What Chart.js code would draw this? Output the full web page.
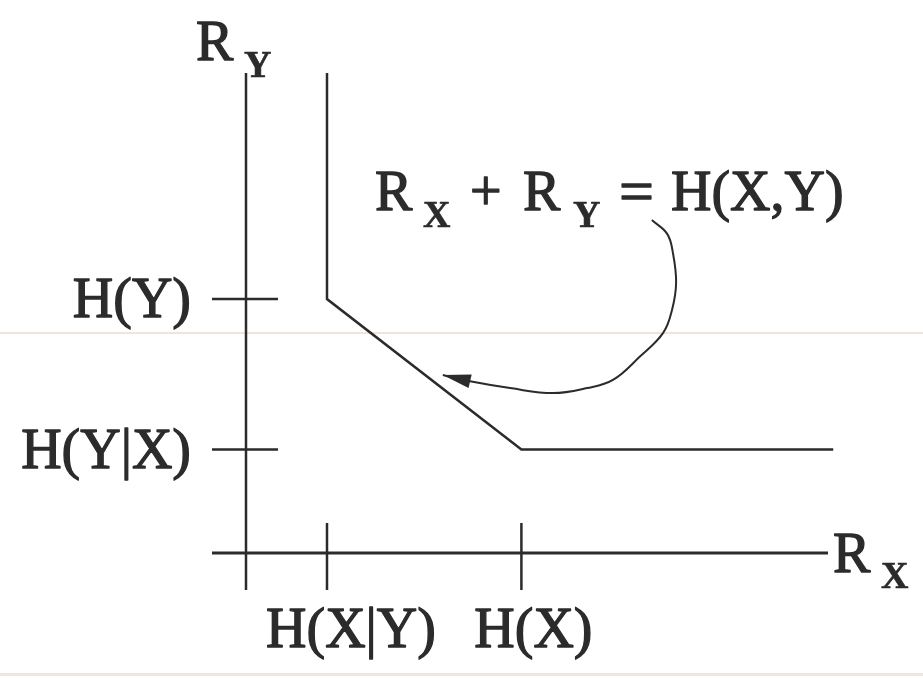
<!DOCTYPE html>
<html>
<head>
<meta charset="utf-8">
<script src="https://cdn.jsdelivr.net/npm/chart.js@4"></script>
<style>
html,body{margin:0;padding:0;background:#fff;}
#wrap{position:relative;width:923px;height:678px;
background:linear-gradient(to bottom, #fff 0, #fff 332px, #f1e4dc 332px, #f1e4dc 334px, #fff 334px, #fff 673px, #efe6df 673px, #efe6df 676px, #fff 676px);}
canvas{display:block;}
</style>
</head>
<body>
<div id="wrap"><canvas id="c" width="923" height="678"></canvas></div>
<script>
// Entropy values (data units)
const xTickValues = [1, 3.4];          // H(X|Y), H(X)
const xTickLabels = ["H(X|Y)", "H(X)"];
const yTickValues = [1.65, 4.05];      // H(Y|X), H(Y)
const yTickLabels = ["H(Y|X)", "H(Y)"];

// Rate region boundary (corner points)
const boundaryX = [1, 1, 3.4, 7.25];
const boundaryY = [7.655, 4.05, 1.65, 1.65];

// Axes extents
const xAxisX = [-0.42, 7.185];
const xAxisY = [0, 0];
const yAxisX = [0, 0];
const yAxisY = [-0.59, 7.655];

// Tick extents
const xTickY = [-0.59, 0.478];
const yTickX = [-0.42, 0.395];

// Arrow curve from label to sum-rate line
const arrowX = [5.01, 5.20, 5.27, 5.31, 5.26, 5.15, 4.86, 4.53, 4.21, 3.79, 3.26, 2.80, 2.43];
const arrowY = [5.31, 5.09, 4.79, 4.31, 3.88, 3.51, 3.13, 2.76, 2.63, 2.55, 2.63, 2.73, 2.84];

const toPts = (xs, ys) => xs.map((x, i) => ({x: x, y: ys[i]}));

const ink = '#2b2b2b';
const serif = '"Liberation Serif", "DejaVu Serif", serif';

const lineDs = (pts, w, extra) => Object.assign({
  data: pts, showLine: true, borderColor: ink, borderWidth: w,
  pointRadius: 0, fill: false, tension: 0
}, extra || {});

const datasets = [
  lineDs(toPts(xAxisX, xAxisY), 3),
  lineDs(toPts(yAxisX, yAxisY), 2.5),
  ...xTickValues.map(v => lineDs(toPts([v, v], xTickY), 2.5)),
  ...yTickValues.map(v => lineDs(toPts(yTickX, [v, v]), 2.5)),
  lineDs(toPts(boundaryX, boundaryY), 2.5),
  lineDs(toPts(arrowX, arrowY), 2, {tension: 0.4})
];
const ARROW_INDEX = datasets.length - 1;

const textPlugin = {
  id: 'texts',
  afterDatasetsDraw(chart) {
    const ctx = chart.ctx;
    const xs = chart.scales.x, ys = chart.scales.y;
    ctx.save();
    ctx.fillStyle = ink;
    ctx.strokeStyle = ink;
    // arrowhead at last curve point
    const meta = chart.getDatasetMeta(ARROW_INDEX).data;
    const tip = meta[meta.length - 1], prev = meta[meta.length - 2];
    const ang = Math.atan2(tip.y - prev.y, tip.x - prev.x);
    const L = 28, W = 7;
    ctx.beginPath();
    ctx.moveTo(tip.x, tip.y);
    ctx.lineTo(tip.x - L * Math.cos(ang) + W * Math.sin(ang), tip.y - L * Math.sin(ang) - W * Math.cos(ang));
    ctx.lineTo(tip.x - L * Math.cos(ang) - W * Math.sin(ang), tip.y - L * Math.sin(ang) + W * Math.cos(ang));
    ctx.closePath();
    ctx.fill();

    const big = '56px ' + serif, small = 'bold 38px ' + serif;
    const put = (t, x, y, w) => { ctx.lineWidth = w; ctx.strokeText(t, x, y); ctx.fillText(t, x, y); };
    ctx.textBaseline = 'alphabetic';
    ctx.lineJoin = 'round';
    // y tick labels
    ctx.textAlign = 'right';
    ctx.font = big;
    yTickValues.forEach((v, i) => {
      put(yTickLabels[i], xs.getPixelForValue(0) - 55, ys.getPixelForValue(v) + 18, 1.3);
    });
    // x tick labels
    ctx.textAlign = 'center';
    const xOff = [24, 12];
    xTickValues.forEach((v, i) => {
      put(xTickLabels[i], xs.getPixelForValue(v) + xOff[i], ys.getPixelForValue(0) + 94, 1.3);
    });
    // axis titles
    ctx.textAlign = 'left';
    const ax0 = xs.getPixelForValue(0);
    const ayTop = ys.getPixelForValue(yAxisY[1]);
    ctx.font = big; put('R', ax0 - 50, ayTop - 13, 1.3);
    ctx.font = small; put('Y', ax0 - 2, ayTop + 4, 0.6);
    const axEnd = xs.getPixelForValue(xAxisX[1]);
    const ay0 = ys.getPixelForValue(0);
    ctx.font = big; put('R', axEnd + 5, ay0 + 19, 1.3);
    ctx.font = small; put('X', axEnd + 53, ay0 + 35, 0.6);
    // equation label
    const ex = 375, ey = 210;
    ctx.font = big; put('R', ex, ey, 1.3);
    ctx.font = small; put('X', ex + 48, ey + 17, 0.6);
    ctx.font = big; put('+', ex + 95, ey, 1.3);
    put('R', ex + 148, ey, 1.3);
    ctx.font = small; put('Y', ex + 198, ey + 17, 0.6);
    ctx.font = '62px ' + serif; put('=', ex + 244, ey + 2, 1.3);
    ctx.font = big; put('H(X,Y)', ex + 296, ey, 1.3);
    ctx.restore();
  }
};

new Chart(document.getElementById('c'), {
  type: 'scatter',
  data: { datasets: datasets },
  options: {
    responsive: false,
    animation: false,
    layout: { padding: 0 },
    plugins: { legend: { display: false }, tooltip: { enabled: false } },
    scales: {
      x: { type: 'linear', display: false, min: -3.037, max: 8.358 },
      y: { type: 'linear', display: false, min: -1.994, max: 8.82 }
    }
  },
  plugins: [textPlugin]
});
</script>
</body>
</html>
